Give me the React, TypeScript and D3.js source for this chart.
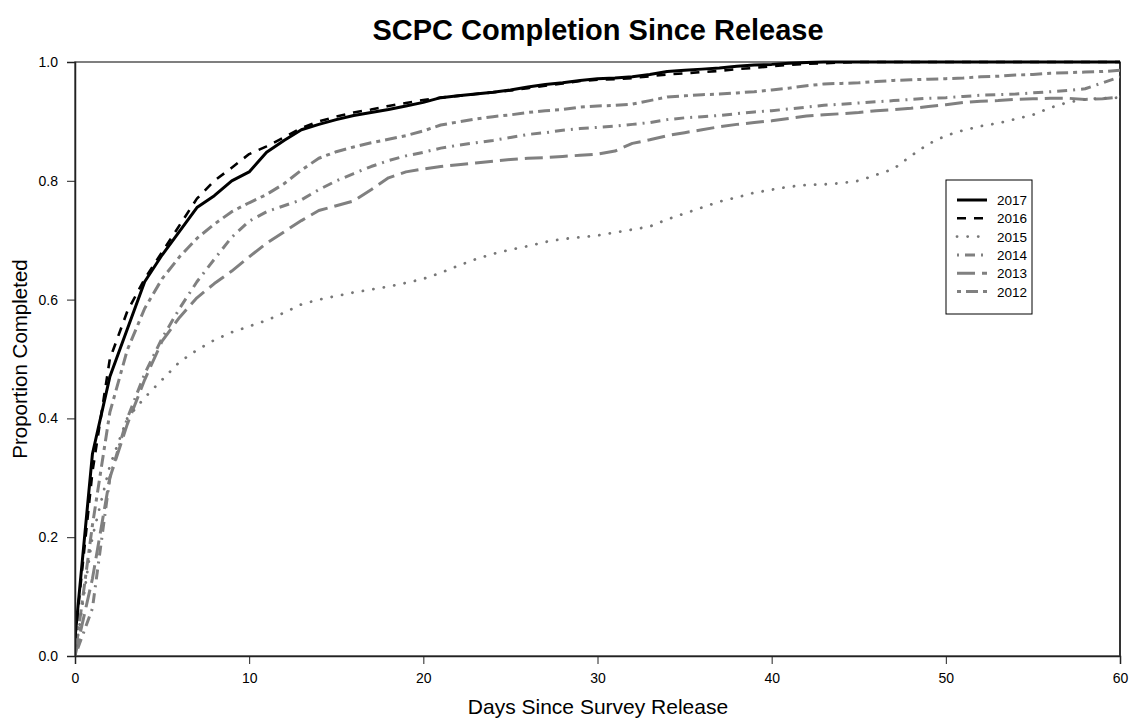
import React, { useEffect, useRef } from 'react';
import * as d3 from 'd3';

// days since release, 0..60
const days: number[] = d3.range(0, 61);

const s2017: number[] = [
  0.03, 0.34, 0.47, 0.55, 0.63, 0.675, 0.715, 0.755, 0.775, 0.8, 0.815, 0.848, 0.868, 0.886, 0.895, 0.903,
  0.91, 0.915, 0.92, 0.926, 0.932, 0.94, 0.943, 0.946, 0.949, 0.953, 0.958, 0.962, 0.965, 0.969, 0.972,
  0.973, 0.975, 0.979, 0.984, 0.986, 0.988, 0.99, 0.993, 0.995, 0.996, 0.998, 0.999, 1, 1, 1, 1, 1, 1, 1,
  1, 1, 1, 1, 1, 1, 1, 1, 1, 1, 1
];
const s2016: number[] = [
  0.03, 0.31, 0.5, 0.58, 0.635, 0.68, 0.725, 0.77, 0.8, 0.822, 0.845, 0.858, 0.873, 0.889, 0.9, 0.908,
  0.915, 0.92, 0.926, 0.931, 0.936, 0.94, 0.943, 0.946, 0.949, 0.952, 0.956, 0.96, 0.964, 0.968, 0.97,
  0.971, 0.973, 0.976, 0.979, 0.981, 0.983, 0.985, 0.988, 0.99, 0.993, 0.995, 0.997, 0.998, 0.999, 1, 1,
  1, 1, 1, 1, 1, 1, 1, 1, 1, 1, 1, 1, 1, 1
];
const s2015: number[] = [
  0, 0.2, 0.32, 0.4, 0.435, 0.465, 0.495, 0.515, 0.532, 0.545, 0.555, 0.565, 0.578, 0.592, 0.6, 0.606,
  0.612, 0.617, 0.622, 0.628, 0.635, 0.645, 0.657, 0.668, 0.677, 0.684, 0.69, 0.697, 0.702, 0.705, 0.708,
  0.713, 0.718, 0.723, 0.735, 0.745, 0.755, 0.765, 0.772, 0.78, 0.785, 0.79, 0.793, 0.794, 0.796, 0.8,
  0.81, 0.82, 0.842, 0.862, 0.876, 0.885, 0.892, 0.897, 0.904, 0.911, 0.923, 0.932, 0.937, 0.939, 0.94
];
const s2014: number[] = [
  0, 0.08, 0.3, 0.4, 0.475, 0.535, 0.585, 0.63, 0.668, 0.705, 0.732, 0.748, 0.758, 0.768, 0.785, 0.8,
  0.812, 0.824, 0.834, 0.842, 0.848, 0.855, 0.86, 0.864, 0.868, 0.873, 0.878, 0.881, 0.885, 0.888, 0.89,
  0.892, 0.895, 0.898, 0.903, 0.906, 0.908, 0.91, 0.913, 0.916, 0.918, 0.921, 0.924, 0.927, 0.929, 0.931,
  0.933, 0.935, 0.937, 0.939, 0.94, 0.942, 0.944, 0.945, 0.946, 0.948, 0.95, 0.952, 0.955, 0.965, 0.975
];
const s2013: number[] = [
  0, 0.13, 0.3, 0.39, 0.465, 0.53, 0.57, 0.603, 0.627, 0.648, 0.672, 0.695, 0.714, 0.733, 0.75, 0.758,
  0.766, 0.785, 0.805, 0.815, 0.82, 0.824, 0.827, 0.83, 0.833, 0.836, 0.838, 0.839, 0.841, 0.843, 0.845,
  0.85, 0.863, 0.869, 0.876, 0.881, 0.886, 0.891, 0.895, 0.898, 0.901, 0.905, 0.909, 0.911, 0.913, 0.915,
  0.918, 0.92, 0.922, 0.925, 0.928, 0.932, 0.934, 0.935, 0.937, 0.938, 0.939, 0.939, 0.937, 0.938, 0.941
];
const s2012: number[] = [
  0, 0.22, 0.41, 0.515, 0.585, 0.635, 0.672, 0.703, 0.727, 0.748, 0.763, 0.777, 0.795, 0.818, 0.838, 0.849,
  0.857, 0.864, 0.87, 0.876, 0.884, 0.894, 0.899, 0.904, 0.908, 0.911, 0.915, 0.918, 0.92, 0.924, 0.926,
  0.927, 0.929, 0.935, 0.941, 0.943, 0.945, 0.946, 0.948, 0.95, 0.953, 0.956, 0.96, 0.963, 0.964, 0.965,
  0.967, 0.969, 0.97, 0.971, 0.972, 0.973, 0.975, 0.976, 0.978, 0.979, 0.981, 0.982, 0.983, 0.984, 0.986
];

const xTicks: number[] = [0, 10, 20, 30, 40, 50, 60];
const yTicks: number[] = [0, 0.2, 0.4, 0.6, 0.8, 1.0];

const series = [
  { name: '2017', values: s2017, color: '#000', width: 3, dash: null, cap: 'butt' },
  { name: '2016', values: s2016, color: '#000', width: 2.6, dash: '9,8', cap: 'butt' },
  { name: '2015', values: s2015, color: '#777', width: 2.8, dash: '0.1,10.5', cap: 'round' },
  { name: '2014', values: s2014, color: '#808080', width: 3, dash: '2,6,10,6', cap: 'butt' },
  { name: '2013', values: s2013, color: '#808080', width: 3, dash: '18,7', cap: 'butt' },
  { name: '2012', values: s2012, color: '#808080', width: 3, dash: '4,5,12,5', cap: 'butt' },
];

const FONT = 'Arial, "Liberation Sans", Helvetica, sans-serif';

const App: React.FC = () => {
  const svgRef = useRef<SVGSVGElement>(null);

  useEffect(() => {
    if (!svgRef.current) return;
    const W = 1130, H = 723;
    const left = 75, right = 1120, top = 62, bottom = 656;

    const svg = d3.select(svgRef.current);
    svg.selectAll('*').remove();
    svg.attr('width', W).attr('height', H).style('font-family', FONT);

    const x = d3.scaleLinear().domain([0, 60]).range([left, right]);
    const y = d3.scaleLinear().domain([0, 1]).range([bottom, top]);

    // title
    svg.append('text')
      .attr('x', 598).attr('y', 40)
      .attr('text-anchor', 'middle')
      .style('font-size', '29px').style('font-weight', 'bold')
      .text('SCPC Completion Since Release');

    // frame
    svg.append('rect')
      .attr('x', left).attr('y', top)
      .attr('width', right - left).attr('height', bottom - top)
      .attr('fill', 'none').attr('stroke', '#555').attr('stroke-width', 1.5);
    svg.append('line')
      .attr('x1', right).attr('x2', right).attr('y1', top).attr('y2', bottom)
      .attr('stroke', '#333').attr('stroke-width', 2);

    // lines, clipped to plot area
    svg.append('clipPath').attr('id', 'plotclip')
      .append('rect').attr('x', left).attr('y', top - 2)
      .attr('width', right - left).attr('height', bottom - top + 2);

    const line = d3.line<number>()
      .x((_, i) => x(days[i]))
      .y(d => y(d));

    const g = svg.append('g').attr('clip-path', 'url(#plotclip)');
    // grey ones first so the black ones sit on top
    [...series].reverse().forEach(s => {
      g.append('path')
        .datum(s.values)
        .attr('d', line)
        .attr('fill', 'none')
        .attr('stroke', s.color)
        .attr('stroke-width', s.width)
        .attr('stroke-dasharray', s.dash)
        .attr('stroke-linecap', s.cap)
        .attr('stroke-linejoin', 'round');
    });

    // axes
    const xAxis = svg.append('g')
      .attr('transform', `translate(0,${bottom})`)
      .call(d3.axisBottom(x).tickValues(xTicks).tickSize(8).tickPadding(9).tickFormat(d3.format('d')));
    const yAxis = svg.append('g')
      .attr('transform', `translate(${left},0)`)
      .call(d3.axisLeft(y).tickValues(yTicks).tickSize(8).tickPadding(9).tickFormat(d3.format('.1f')));

    [xAxis, yAxis].forEach(a => {
      a.selectAll('.domain').attr('stroke', '#222').attr('stroke-width', 1.5);
      a.selectAll('.tick line').attr('stroke', '#222');
      a.selectAll('text').style('font-size', '14px').style('font-family', FONT).attr('fill', '#000');
    });

    // axis titles
    svg.append('text')
      .attr('x', 598).attr('y', 714)
      .attr('text-anchor', 'middle')
      .style('font-size', '21px')
      .text('Days Since Survey Release');

    svg.append('text')
      .attr('transform', `translate(27,${(top + bottom) / 2}) rotate(-90)`)
      .attr('text-anchor', 'middle')
      .style('font-size', '20.5px')
      .text('Proportion Completed');

    // legend
    const lg = svg.append('g').attr('transform', 'translate(946,180)');
    lg.append('rect')
      .attr('width', 86).attr('height', 134)
      .attr('fill', '#fff').attr('stroke', '#000').attr('stroke-width', 1);
    series.forEach((s, i) => {
      const ry = 20 + i * 18.3;
      lg.append('line')
        .attr('x1', 11).attr('x2', 41)
        .attr('y1', ry).attr('y2', ry)
        .attr('stroke', s.color)
        .attr('stroke-width', s.width)
        .attr('stroke-dasharray', s.dash)
        .attr('stroke-linecap', s.cap);
      lg.append('text')
        .attr('x', 51).attr('y', ry + 5)
        .style('font-size', '13.5px')
        .text(s.name);
    });
  }, []);

  return (
    <div style={{ position: 'absolute', left: 0, top: 0, background: '#fff' }}>
      <svg ref={svgRef}></svg>
    </div>
  );
};

export default App;
